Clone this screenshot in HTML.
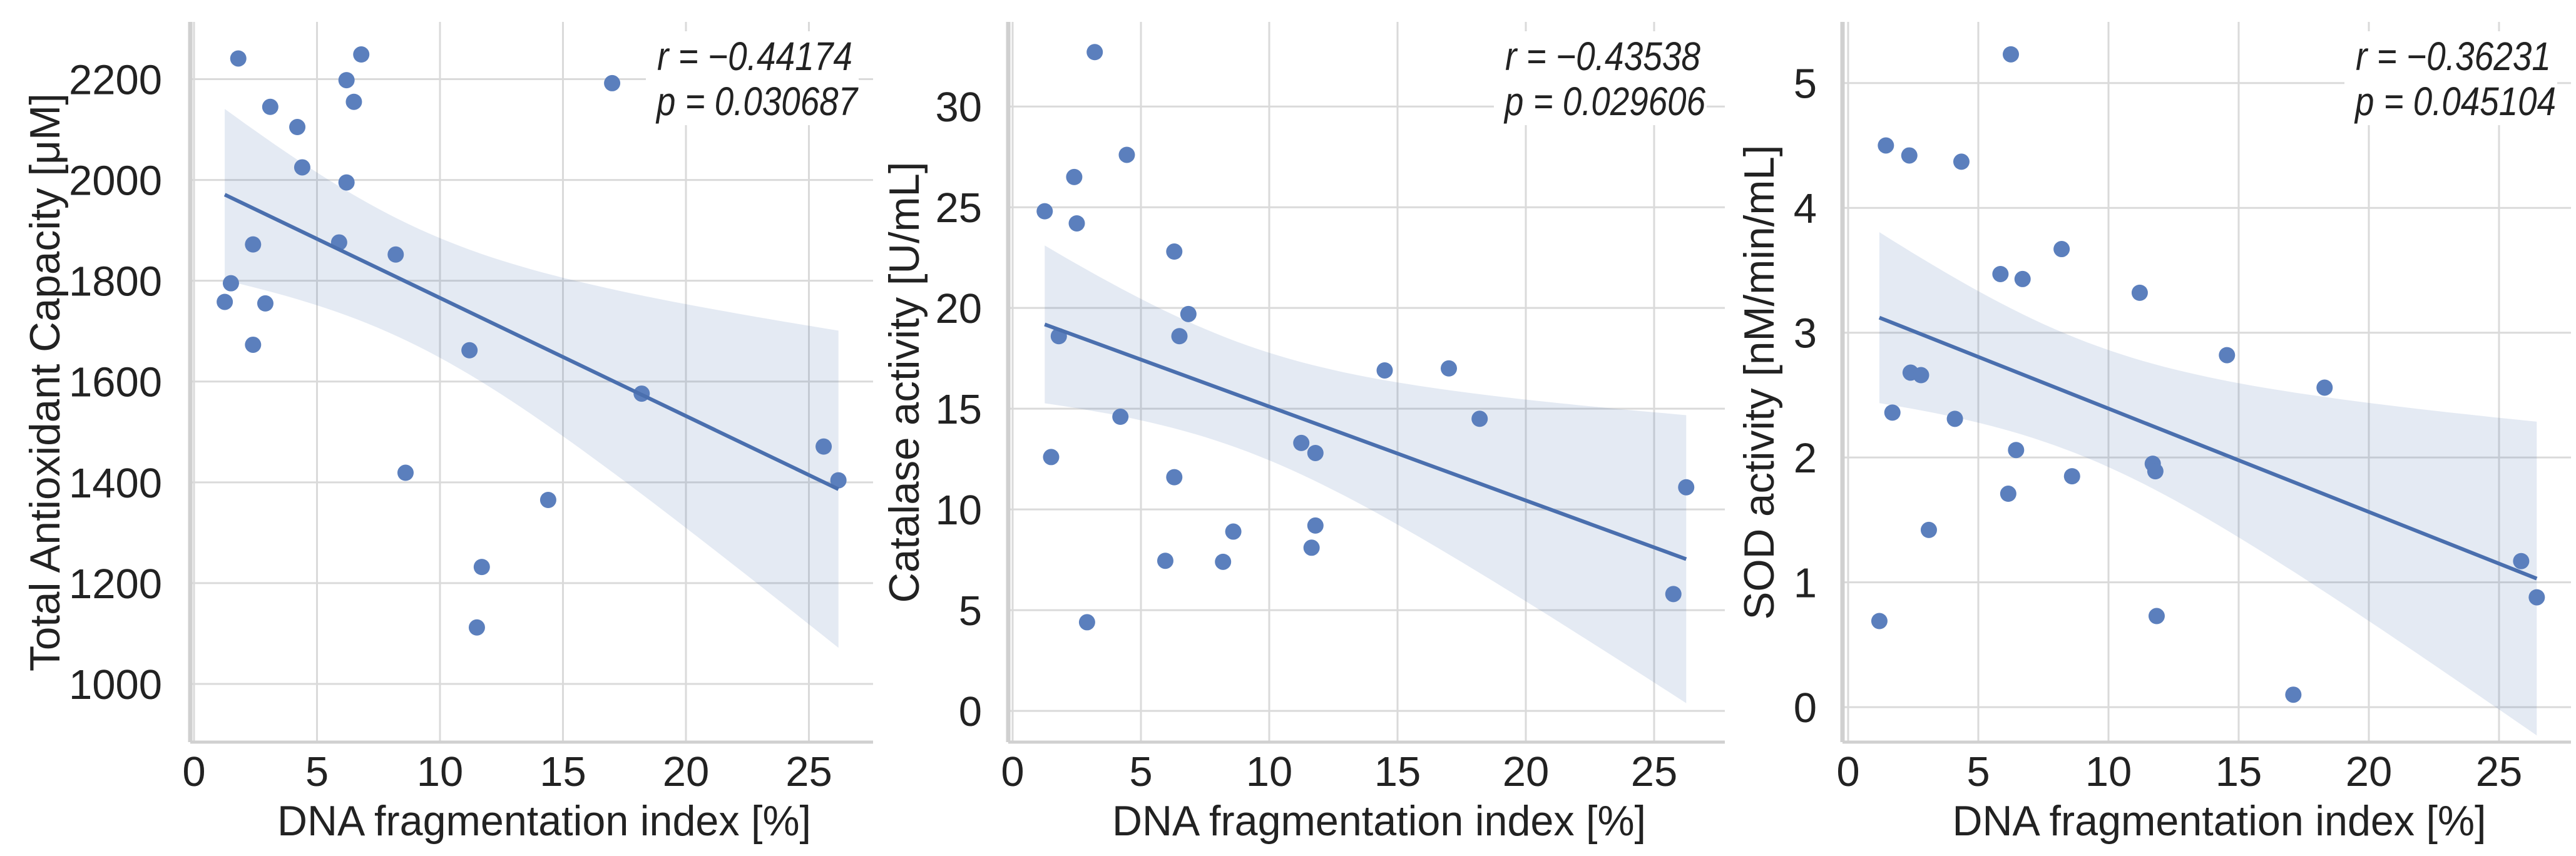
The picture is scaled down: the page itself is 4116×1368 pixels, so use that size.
<!DOCTYPE html>
<html><head><meta charset="utf-8"><style>
html,body{margin:0;padding:0;background:#fff}
svg{display:block}
text{font-family:"Liberation Sans",sans-serif;fill:#222}
</style></head><body>
<svg id="chart" width="4116" height="1368" viewBox="0 0 4116 1368" xmlns="http://www.w3.org/2000/svg"></svg>
<script>
// Panel 1: Total Antioxidant Capacity
const taxX=[1.8,6.8,6.2,17.0,6.5,3.1,4.2,4.4,6.2,2.4,5.9,8.2,1.5,1.25,2.9,2.4,11.2,18.2,25.6,26.2,8.6,14.4,11.7,11.5];
const taxY=[2241,2249,2198,2192,2155,2145,2105,2025,1995,1872,1876,1852,1795,1758,1755,1673,1662,1576,1471,1404,1419,1365,1232,1112];
const taxTicks=[1000,1200,1400,1600,1800,2000,2200];
// Panel 2: Catalase
const catX=[3.2,4.45,2.4,1.25,2.5,6.3,6.85,1.8,6.5,14.5,17.0,4.2,18.2,11.25,11.8,1.5,6.3,26.25,8.6,11.8,11.65,5.95,8.2,25.75,2.9];
const catY=[32.7,27.6,26.5,24.8,24.2,22.8,19.7,18.6,18.6,16.9,17.0,14.6,14.5,13.3,12.8,12.6,11.6,11.1,8.9,9.2,8.1,7.45,7.4,5.8,4.4];
const catTicks=[0,5,10,15,20,25,30];
// Panel 3: SOD
const sodX=[6.25,1.45,2.35,4.35,8.2,5.85,6.7,11.2,14.55,2.4,2.8,18.3,1.7,4.1,6.45,11.7,11.8,8.6,6.15,3.1,25.85,26.45,1.2,11.85,17.1];
const sodY=[5.23,4.50,4.42,4.37,3.67,3.47,3.43,3.32,2.82,2.68,2.66,2.56,2.36,2.31,2.06,1.95,1.89,1.85,1.71,1.42,1.17,0.88,0.69,0.73,0.10];
const sodTicks=[0,1,2,3,4,5];
const xTicks=[0,5,10,15,20,25];
const rLabels=["r = \u22120.44174","r = \u22120.43538","r = \u22120.36231"];
const pLabels=["p = 0.030687","p = 0.029606","p = 0.045104"];
const yTitles=["Total Antioxidant Capacity [\u03bcM]","Catalase activity [U/mL]","SOD activity [nM/min/mL]"];

const NS="http://www.w3.org/2000/svg";
const svg=document.getElementById('chart');
function mk(tag,attrs,parent){const e=document.createElementNS(NS,tag);for(const k in attrs)e.setAttribute(k,attrs[k]);(parent||svg).appendChild(e);return e;}

const panels=[
 {xs:taxX,ys:taxY,yt:taxTicks,L:304,R:1395,x0:310,xu:39.3,ymin:884.5,ymax:2313.6,ylx:71,tickR:259,ttLen:924,ann:1362},
 {xs:catX,ys:catY,yt:catTicks,L:1611,R:2756,x0:1618,xu:41,ymin:-1.55,ymax:34.2,ylx:1444,tickR:1569,ttLen:705,ann:2717},
 {xs:sodX,ys:sodY,yt:sodTicks,L:2944,R:4108,x0:2953,xu:41.6,ymin:-0.28,ymax:5.49,ylx:2810,tickR:2903,ttLen:759,ann:4076}
];
const T=35,B=1186;
panels.forEach((p,i)=>{
  const g=mk('g',{});
  
  
  const xs=v=>p.x0+v*p.xu;
  const ys=v=>B-(v-p.ymin)/(p.ymax-p.ymin)*(B-T);
  xTicks.forEach(t=>{
    const l=mk('line',{x1:xs(t),x2:xs(t),y1:T,y2:B,stroke:'#dadada','stroke-width':3},g);
    
    
    const tx=mk('text',{x:xs(t),y:1256,'font-size':67,'text-anchor':'middle'},g);
    tx.textContent=t;
    
    
  });
  p.yt.forEach(t=>{
    const l=mk('line',{x1:p.L,x2:p.R,y1:ys(t),y2:ys(t),stroke:'#dadada','stroke-width':3},g);
    
    
    const tx=mk('text',{x:p.tickR,y:ys(t)+24,'font-size':67,'text-anchor':'end'},g);
    tx.textContent=t;
    
    
  });
  const sl=mk('line',{x1:p.L,x2:p.L,y1:T,y2:B,stroke:'#d0d0d0','stroke-width':7},g);
  
  
  const sb=mk('line',{x1:p.L,x2:p.R,y1:B,y2:B,stroke:'#d0d0d0','stroke-width':5},g);
  
  
  const n=p.xs.length;
  const mx=p.xs.reduce((a,b)=>a+b,0)/n, my=p.ys.reduce((a,b)=>a+b,0)/n;
  let sxx=0,sxy=0;for(let k=0;k<n;k++){sxx+=(p.xs[k]-mx)**2;sxy+=(p.xs[k]-mx)*(p.ys[k]-my);}
  const b1=sxy/sxx,b0=my-b1*mx;
  let sse=0;for(let k=0;k<n;k++)sse+=(p.ys[k]-b0-b1*p.xs[k])**2;
  const s=Math.sqrt(sse/(n-2)),tq=1.9;
  const xmin=Math.min(...p.xs),xmax=Math.max(...p.xs);
  const up=[],lo=[];
  for(let k=0;k<=60;k++){const x=xmin+(xmax-xmin)*k/60;const yh=b0+b1*x;const h=tq*s*Math.sqrt(1/n+(x-mx)**2/sxx);
    up.push(xs(x).toFixed(1)+','+ys(yh+h).toFixed(1));lo.unshift(xs(x).toFixed(1)+','+ys(yh-h).toFixed(1));}
  const band=mk('polygon',{points:up.concat(lo).join(' '),fill:'rgba(76,114,176,0.15)'},g);
  
  
  for(let k=0;k<n;k++){
    const c=mk('circle',{cx:xs(p.xs[k]),cy:ys(p.ys[k]),r:13,fill:'#5b7fbd'},g);
    
    
  }
  const rl=mk('line',{x1:xs(xmin),y1:ys(b0+b1*xmin),x2:xs(xmax),y2:ys(b0+b1*xmax),stroke:'#4a6fae','stroke-width':6},g);
  
  
  const bg=mk('rect',{x:p.ann-330,y:50,width:340,height:150,fill:'#fff'},g);
  
  
  const t1=mk('text',{x:p.ann,y:112,'font-size':64,'font-style':'italic','text-anchor':'end',textLength:312,lengthAdjust:'spacingAndGlyphs'},g);
  t1.textContent=rLabels[i];
  
  
  const t2=mk('text',{x:p.ann+8,y:184,'font-size':64,'font-style':'italic','text-anchor':'end',textLength:321,lengthAdjust:'spacingAndGlyphs'},g);
  t2.textContent=pLabels[i];
  
  
  const xt=mk('text',{x:(p.L+p.R)/2+20,y:1335,'font-size':68,'text-anchor':'middle',textLength:853,lengthAdjust:'spacingAndGlyphs'},g);
  xt.textContent='DNA fragmentation index [%]';
  
  
  const yt=mk('text',{x:0,y:0,'font-size':68,'text-anchor':'middle',textLength:p.ttLen,lengthAdjust:'spacingAndGlyphs',transform:`translate(${p.ylx+24},611) rotate(-90)`},g);
  yt.textContent=yTitles[i];
  
  
});
</script>
</body></html>
